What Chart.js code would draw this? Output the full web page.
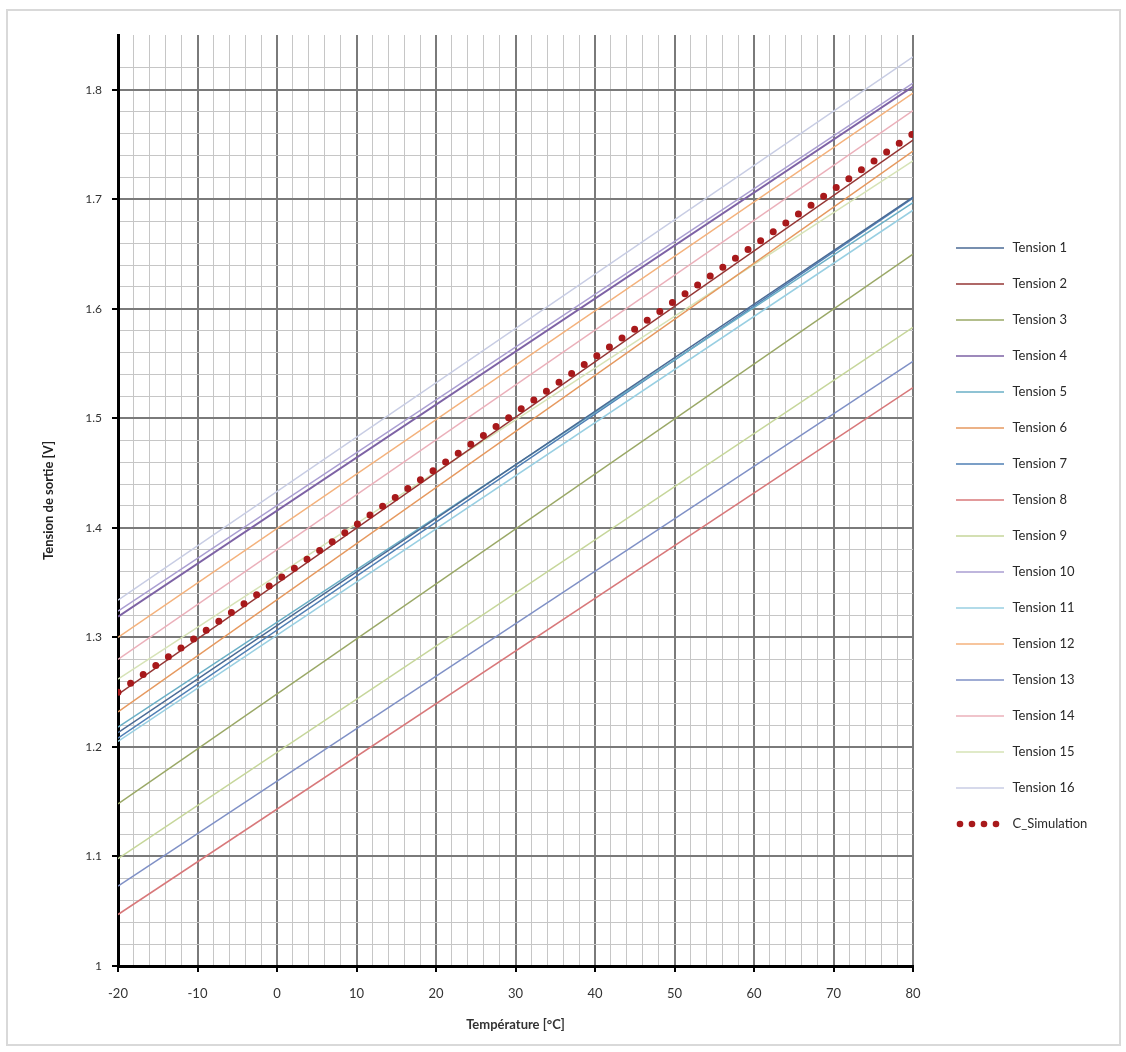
<!DOCTYPE html>
<html>
<head>
<meta charset="utf-8">
<script src="https://cdn.jsdelivr.net/npm/chart.js@4.4.1/dist/chart.umd.min.js"></script>
<style>
    html, body { margin: 0; padding: 0; background: #fff; }
    #frame { position: absolute; left: 6px; top: 9px; width: 1111px; height: 1033px; border: 2px solid #d9d9d9; }
    #wrap { position: absolute; left: 0; top: 0; width: 1126px; height: 1052px; }
</style>
</head>
<body>
<div id="frame"></div>
<div id="wrap"><canvas id="chart" width="1126" height="1052"></canvas></div>
<script>
// =====================================================
// Data (straight lines from -20 to 80 °C)
// =====================================================
const temperatures = [-20, 80];

const seriesNames = [
    'Tension 1', 'Tension 2', 'Tension 3', 'Tension 4',
    'Tension 5', 'Tension 6', 'Tension 7', 'Tension 8',
    'Tension 9', 'Tension 10', 'Tension 11', 'Tension 12',
    'Tension 13', 'Tension 14', 'Tension 15', 'Tension 16'
];

// Output voltage at -20 °C
const tensionStart = [1.213, 1.248, 1.148, 1.319, 1.218, 1.232, 1.208, 1.047,
                      1.098, 1.324, 1.205, 1.300, 1.073, 1.280, 1.262, 1.334];
// Output voltage at 80 °C
const tensionEnd   = [1.702, 1.754, 1.650, 1.803, 1.697, 1.744, 1.701, 1.528,
                      1.583, 1.806, 1.690, 1.797, 1.552, 1.781, 1.735, 1.830];

const seriesColors = ['#4a6a95', '#943634', '#9aa866', '#7d62a5', '#6aafc6', '#e6995f', '#4f7fb5', '#d8787a',
                      '#c6d69a', '#aa9ed2', '#98cfe2', '#f4b27c', '#7f90c6', '#ebb0ba', '#d6e3b6', '#c8cde4'];

const simName = 'C_Simulation';
const simValues = [1.250, 1.760];
const simColor = '#a8191b';

const FONT = 'Lato, "Open Sans", sans-serif';

// small legend swatches drawn as images (left margin keeps the legend where the picture has it)
function lineSwatch(color) {
    const c = document.createElement('canvas');
    c.width = 70; c.height = 8;
    const g = c.getContext('2d');
    g.strokeStyle = color;
    g.lineWidth = 1.6;
    g.beginPath(); g.moveTo(20, 4); g.lineTo(68, 4); g.stroke();
    return c;
}
function dotSwatch(color) {
    const c = document.createElement('canvas');
    c.width = 70; c.height = 10;
    const g = c.getContext('2d');
    g.fillStyle = color;
    [24, 36, 48, 60].forEach(x => { g.beginPath(); g.arc(x, 5, 3.3, 0, Math.PI * 2); g.fill(); });
    return c;
}

const isMajorX = v => v % 10 === 0;
const isMajorY = v => Math.abs(v * 10 - Math.round(v * 10)) < 1e-6;

const datasets = seriesNames.map((name, i) => ({
    label: name,
    data: temperatures.map((t, k) => ({ x: t, y: k === 0 ? tensionStart[i] : tensionEnd[i] })),
    borderColor: seriesColors[i],
    borderWidth: i === 3 ? 2 : 1.5,
    pointRadius: 0,
    pointStyle: lineSwatch(seriesColors[i]),
    order: 1
}));

datasets.push({
    label: simName,
    data: temperatures.map((t, k) => ({ x: t, y: simValues[k] })),
    borderColor: simColor,
    borderWidth: 7,
    borderDash: [0, 15.4],
    borderCapStyle: 'round',
    pointRadius: 0,
    pointStyle: dotSwatch(simColor),
    order: 0
});

const chart = new Chart(document.getElementById('chart'), {
    type: 'line',
    data: { datasets: datasets },
    options: {
        responsive: false,
        animation: false,
        layout: { padding: { left: 41, top: 35, bottom: 15, right: 10 } },
        plugins: {
            tooltip: { enabled: false },
            legend: {
                position: 'right',
                labels: {
                    usePointStyle: true,
                    pointStyleWidth: 70,
                    boxHeight: 8,
                    padding: 23,
                    color: '#2a2a2a',
                    font: { family: FONT, size: 13 },
                    sort: (a, b) => a.datasetIndex - b.datasetIndex
                }
            }
        },
        scales: {
            x: {
                type: 'linear',
                min: -20,
                max: 80,
                afterFit: scale => { scale.height = 71; },
                ticks: {
                    stepSize: 2,
                    autoSkip: false,
                    maxRotation: 0,
                    padding: 14,
                    color: '#333',
                    font: { family: FONT, size: 13 },
                    callback: v => isMajorX(v) ? String(v) : ''
                },
                grid: {
                    color: ctx => isMajorX(ctx.tick.value) ? '#7a7a7a' : '#c6c6c6',
                    lineWidth: ctx => isMajorX(ctx.tick.value) ? 2 : 1,
                    tickColor: ctx => isMajorX(ctx.tick.value) ? '#000' : 'rgba(0,0,0,0)',
                    tickWidth: 2,
                    tickLength: 6
                },
                border: { color: '#000', width: 3 },
                title: {
                    display: true,
                    text: 'Température [°C]',
                    color: '#333',
                    font: { family: FONT, size: 13, weight: 'bold' },
                    padding: { top: 5 }
                }
            },
            y: {
                min: 1,
                max: 1.85,
                afterFit: scale => { scale.width = 77; },
                afterBuildTicks: scale => {
                    scale.ticks = scale.ticks.filter(t => Math.abs(t.value * 50 - Math.round(t.value * 50)) < 1e-6);
                },
                ticks: {
                    stepSize: 0.02,
                    autoSkip: false,
                    padding: 10,
                    color: '#333',
                    font: { family: FONT, size: 12 },
                    callback: v => isMajorY(v) ? String(Math.round(v * 10) / 10) : ''
                },
                grid: {
                    color: ctx => isMajorY(ctx.tick.value) ? '#7a7a7a' : '#c6c6c6',
                    lineWidth: ctx => isMajorY(ctx.tick.value) ? 2 : 1,
                    tickColor: ctx => isMajorY(ctx.tick.value) ? '#000' : 'rgba(0,0,0,0)',
                    tickWidth: 2,
                    tickLength: 6
                },
                border: { color: '#000', width: 3 },
                title: {
                    display: true,
                    text: 'Tension de sortie [V]',
                    color: '#222',
                    font: { family: FONT, size: 13, weight: 'bold' },
                    padding: { top: 0, bottom: 11 }
                }
            }
        }
    }
});

// widen the legend box so the plot ends at 80 °C where the picture has it
const legendFit = chart.legend.fit;
chart.legend.fit = function () {
    legendFit.call(this);
    this.width = 203;
};
chart.update();
</script>
</body>
</html>
